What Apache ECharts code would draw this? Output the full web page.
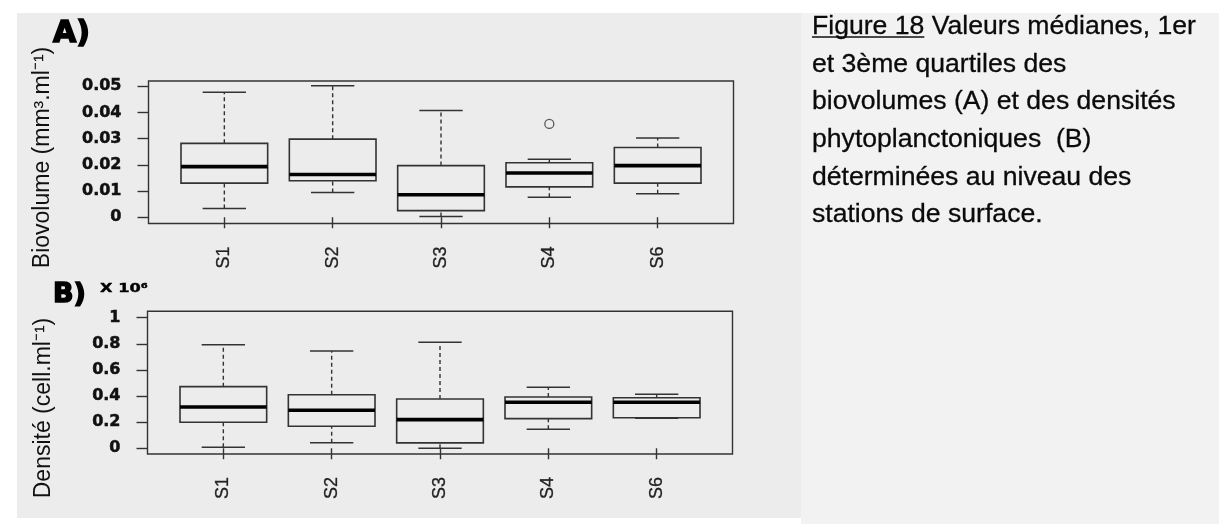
<!DOCTYPE html>
<html>
<head>
<meta charset="utf-8">
<title>Biovolumes et densités phytoplanctoniques</title>
<script src="https://cdn.jsdelivr.net/npm/echarts@6/dist/echarts.min.js"></script>
<style>
  html, body { margin: 0; padding: 0; background: #ffffff; }
  #wrap { position: relative; width: 1219px; height: 524px; overflow: hidden; }
  #panelBg { position: absolute; left: 17px; top: 13px; width: 784px; height: 505px; background: #ececec; }
  #captionBg { position: absolute; left: 801px; top: 13px; width: 418px; height: 511px; background: #f2f2f2; }
  #chart { position: absolute; left: 0; top: 0; width: 1219px; height: 524px; }
</style>
</head>
<body>
<div id="wrap">
  <div id="panelBg"></div>
  <div id="captionBg"></div>
  <div id="chart"></div>
</div>
<script>
// Stations de surface
const stations = ['S1', 'S2', 'S3', 'S4', 'S6'];

// A) Biovolume (mm3.ml-1): whisker ends, quartiles and medians per station
const bioLow    = [0.0033, 0.0094, 0.0003, 0.0076, 0.0090];
const bioQ1     = [0.0130, 0.0139, 0.0025, 0.0116, 0.0130];
const bioMedian = [0.0193, 0.0163, 0.0086, 0.0169, 0.0197];
const bioQ3     = [0.0282, 0.0298, 0.0197, 0.0208, 0.0266];
const bioHigh   = [0.0477, 0.0502, 0.0407, 0.0221, 0.0302];
const bioOutliers = [['S4', 0.0356]];
const bioTicks  = [0, 0.01, 0.02, 0.03, 0.04, 0.05];

// B) Densité (cell.ml-1, x 10^6)
const densLow    = [0.008, 0.043, 0.000, 0.145, 0.230];
const densQ1     = [0.199, 0.168, 0.041, 0.227, 0.234];
const densMedian = [0.316, 0.291, 0.219, 0.352, 0.352];
const densQ3     = [0.472, 0.410, 0.377, 0.393, 0.387];
const densHigh   = [0.793, 0.745, 0.812, 0.467, 0.413];
const densTicks  = [0, 0.2, 0.4, 0.6, 0.8, 1];

const captionLines = [
  'Figure 18 Valeurs médianes, 1er',
  'et 3ème quartiles des',
  'biovolumes (A) et des densités',
  'phytoplanctoniques  (B)',
  'déterminées au niveau des',
  'stations de surface.'
];
const captionRef = 'Figure 18';

// station positions on the x scale (1..n)
const stationPos = stations.map((_, i) => i + 1);

function boxRows(low, q1, med, q3, high) {
  return stations.map((_, i) => [stationPos[i], low[i], q1[i], med[i], q3[i], high[i]]);
}

const INK = '#333333';

function renderBox(params, api) {
  const x = api.value(0);
  const pt = v => api.coord([x, v]);
  const boxW = api.size([0.8, 0])[0];
  const capW = api.size([0.4, 0])[0];
  const cx = pt(0)[0];
  const lo = pt(api.value(1))[1];
  const q1 = pt(api.value(2))[1];
  const md = pt(api.value(3))[1];
  const q3 = pt(api.value(4))[1];
  const hi = pt(api.value(5))[1];
  const seg = (x1, y1, x2, y2, style) => ({ type: 'line', shape: { x1, y1, x2, y2 }, style });
  const dashed = { stroke: INK, lineWidth: 1.4, lineDash: [4, 3] };
  const solid = { stroke: INK, lineWidth: 1.5 };
  return {
    type: 'group',
    children: [
      seg(cx, q3, cx, hi, dashed),
      seg(cx, lo, cx, q1, dashed),
      seg(cx - capW / 2, hi, cx + capW / 2, hi, solid),
      seg(cx - capW / 2, lo, cx + capW / 2, lo, solid),
      { type: 'rect', shape: { x: cx - boxW / 2, y: q3, width: boxW, height: q1 - q3 },
        style: { fill: 'none', stroke: INK, lineWidth: 1.6 } },
      seg(cx - boxW / 2, md, cx + boxW / 2, md, { stroke: '#000', lineWidth: 3.6 })
    ]
  };
}

function xAxisFor(gridIndex) {
  return {
    gridIndex, type: 'value', min: 0.3, max: 5.7,
    splitLine: { show: false }, axisLine: { show: false },
    axisTick: { show: true, length: 11, customValues: stationPos, lineStyle: { color: INK, width: 1.4 } },
    axisLabel: {
      customValues: stationPos, rotate: 90, margin: 23,
      formatter: v => stations[Math.round(v) - 1],
      fontFamily: 'Liberation Sans', fontSize: 18, color: '#222',
      textBorderColor: '#222', textBorderWidth: 0.3
    }
  };
}

function yAxisFor(gridIndex, min, max, ticks) {
  return {
    gridIndex, type: 'value', min, max,
    splitLine: { show: false }, axisLine: { show: false },
    axisTick: { show: true, length: 11, customValues: ticks, lineStyle: { color: INK, width: 1.4 } },
    axisLabel: {
      customValues: ticks, margin: 27, formatter: v => String(v),
      fontFamily: 'DejaVu Sans', fontWeight: 'bold', fontSize: 16, color: '#111',
      textBorderColor: '#111', textBorderWidth: 0.5
    }
  };
}

const chart = echarts.init(document.getElementById('chart'), null, { renderer: 'canvas' });

// caption font and the width of its underlined reference
const captionSize = 26.6;
const ctx = document.createElement('canvas').getContext('2d');
ctx.font = captionSize + 'px "Liberation Sans"';
const refWidth = ctx.measureText(captionRef).width;
const captionLeft = 812;

chart.setOption({
  animation: false,
  title: {
    left: captionLeft, top: 8, padding: 0,
    text: captionLines.join('\n'),
    textStyle: { fontFamily: 'Liberation Sans', fontSize: captionSize, fontWeight: 'normal', color: '#0a0a0a', lineHeight: 37.6,
                 textBorderColor: '#0a0a0a', textBorderWidth: 0.3 }
  },
  grid: [
    { left: 148.5, top: 81, width: 585, height: 142.5, show: true, borderColor: INK, borderWidth: 1.4, backgroundColor: 'transparent' },
    { left: 147.5, top: 311.3, width: 585, height: 142.7, show: true, borderColor: INK, borderWidth: 1.4, backgroundColor: 'transparent' }
  ],
  xAxis: [xAxisFor(0), xAxisFor(1)],
  yAxis: [
    yAxisFor(0, -0.0024, 0.052, bioTicks),
    yAxisFor(1, -0.044, 1.049, densTicks)
  ],
  graphic: [
    { type: 'text', x: 53, y: 34, style: { text: 'A)', fontFamily: 'DejaVu Sans', fontWeight: 'bold', fontSize: 30, fill: '#000', stroke: '#000', lineWidth: 1.6, verticalAlign: 'middle' } },
    { type: 'text', x: 53, y: 295, style: { text: 'B)', fontFamily: 'DejaVu Sans', fontWeight: 'bold', fontSize: 27, fill: '#000', stroke: '#000', lineWidth: 1.5, verticalAlign: 'middle' } },
    { type: 'text', x: 100, y: 289, scaleX: 1.35, style: { text: 'X 10⁶', fontFamily: 'DejaVu Sans', fontWeight: 'bold', fontSize: 12, fill: '#000', stroke: '#000', lineWidth: 0.4, verticalAlign: 'middle' } },
    { type: 'text', x: 43, y: 157.5, rotation: Math.PI / 2, style: { text: 'Biovolume (mm³.ml⁻¹)', fontFamily: 'Liberation Sans', fontSize: 23, fill: '#111', align: 'center', verticalAlign: 'middle' } },
    { type: 'text', x: 44, y: 408, rotation: Math.PI / 2, style: { text: 'Densité (cell.ml⁻¹)', fontFamily: 'Liberation Sans', fontSize: 23, fill: '#111', align: 'center', verticalAlign: 'middle' } },
    { type: 'line', shape: { x1: captionLeft, y1: 37, x2: captionLeft + refWidth, y2: 37 }, style: { stroke: '#111', lineWidth: 1.3 } }
  ],
  series: [
    {
      type: 'custom', xAxisIndex: 0, yAxisIndex: 0,
      encode: { x: 0, y: [1, 2, 3, 4, 5] },
      data: boxRows(bioLow, bioQ1, bioMedian, bioQ3, bioHigh),
      renderItem: renderBox
    },
    {
      type: 'scatter', xAxisIndex: 0, yAxisIndex: 0,
      symbol: 'circle', symbolSize: 9,
      itemStyle: { color: 'rgba(0,0,0,0)', borderColor: INK, borderWidth: 1.3 },
      data: bioOutliers.map(([s, v]) => [stationPos[stations.indexOf(s)], v])
    },
    {
      type: 'custom', xAxisIndex: 1, yAxisIndex: 1,
      encode: { x: 0, y: [1, 2, 3, 4, 5] },
      data: boxRows(densLow, densQ1, densMedian, densQ3, densHigh),
      renderItem: renderBox
    }
  ]
});
</script>
</body>
</html>
